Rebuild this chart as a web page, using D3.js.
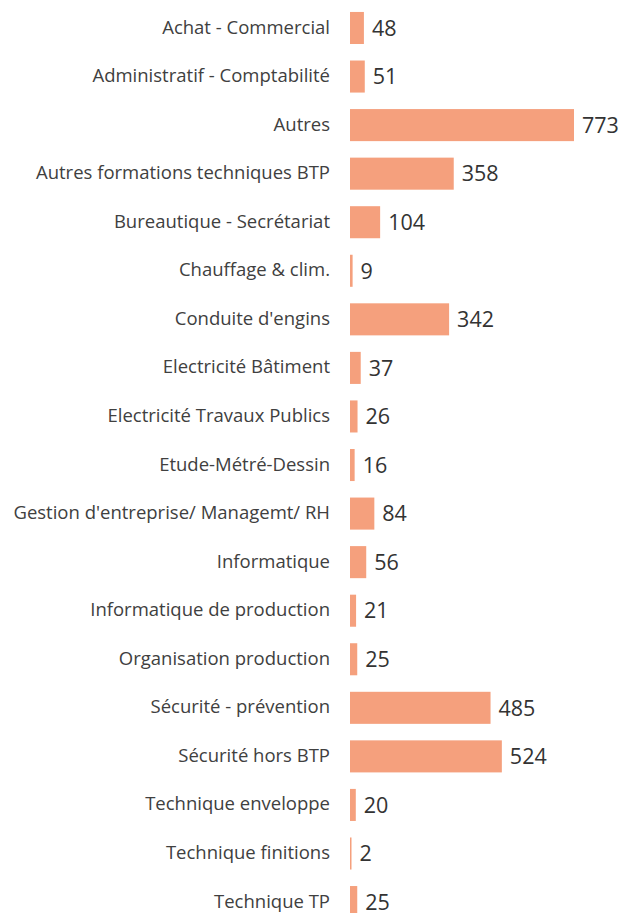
<!DOCTYPE html>
<html>
<head>
<meta charset="utf-8">
<script src="https://cdn.jsdelivr.net/npm/d3@7"></script>
<style>
  body { margin: 0; background: #fff; }
  svg text { font-family: "Open Sans", sans-serif; }
</style>
</head>
<body>
<div id="chart"></div>
<script>
// Data
const categories = [
  "Achat - Commercial",
  "Administratif - Comptabilité",
  "Autres",
  "Autres formations techniques BTP",
  "Bureautique - Secrétariat",
  "Chauffage & clim.",
  "Conduite d'engins",
  "Electricité Bâtiment",
  "Electricité Travaux Publics",
  "Etude-Métré-Dessin",
  "Gestion d'entreprise/ Managemt/ RH",
  "Informatique",
  "Informatique de production",
  "Organisation production",
  "Sécurité - prévention",
  "Sécurité hors BTP",
  "Technique enveloppe",
  "Technique finitions",
  "Technique TP"
]
const values = [48, 51, 773, 358, 104, 9, 342, 37, 26, 16, 84, 56, 21, 25, 485, 524, 20, 2, 25]

const svgWidth = 621
const svgHeight = 913

let margin = { left: 350, top: 3.7 }
let step = 48.56

let svg = d3
  .select("#chart")
  .append("svg")
  .attr("width", svgWidth)
  .attr("height", svgHeight)

let x = d3
  .scaleLinear()
  .domain([0, d3.max(values)])
  .range([0, 224])

let y = d3
  .scaleBand()
  .domain(categories)
  .range([margin.top, margin.top + step * categories.length])
  .paddingInner(0.34)
  .paddingOuter(0.17)

let g = svg.append("g").attr("transform", `translate(${margin.left}, 0)`)

g.selectAll("rect")
  .data(categories)
  .enter()
  .append("rect")
  .attr("x", 0)
  .attr("y", d => y(d))
  .attr("width", (d, i) => Math.max(x(values[i]), 1.5))
  .attr("height", y.bandwidth())
  .attr("fill", "#f5a07d")

// value labels
g.selectAll(".val")
  .data(categories)
  .enter()
  .append("text")
  .attr("class", "val")
  .attr("x", (d, i) => Math.max(x(values[i]), 1.5) + 8)
  .attr("y", d => y(d) + y.bandwidth() / 2)
  .attr("dy", "0.36em")
  .attr("font-size", 21.5)
  .attr("fill", "#333")
  .text((d, i) => values[i])

// category labels
svg.selectAll(".cat")
  .data(categories)
  .enter()
  .append("text")
  .attr("class", "cat")
  .attr("x", 330)
  .attr("y", d => y(d) + y.bandwidth() / 2)
  .attr("dy", "0.3em")
  .attr("text-anchor", "end")
  .attr("font-size", 18.5)
  .attr("fill", "#404040")
  .text(d => d)
</script>
</body>
</html>
